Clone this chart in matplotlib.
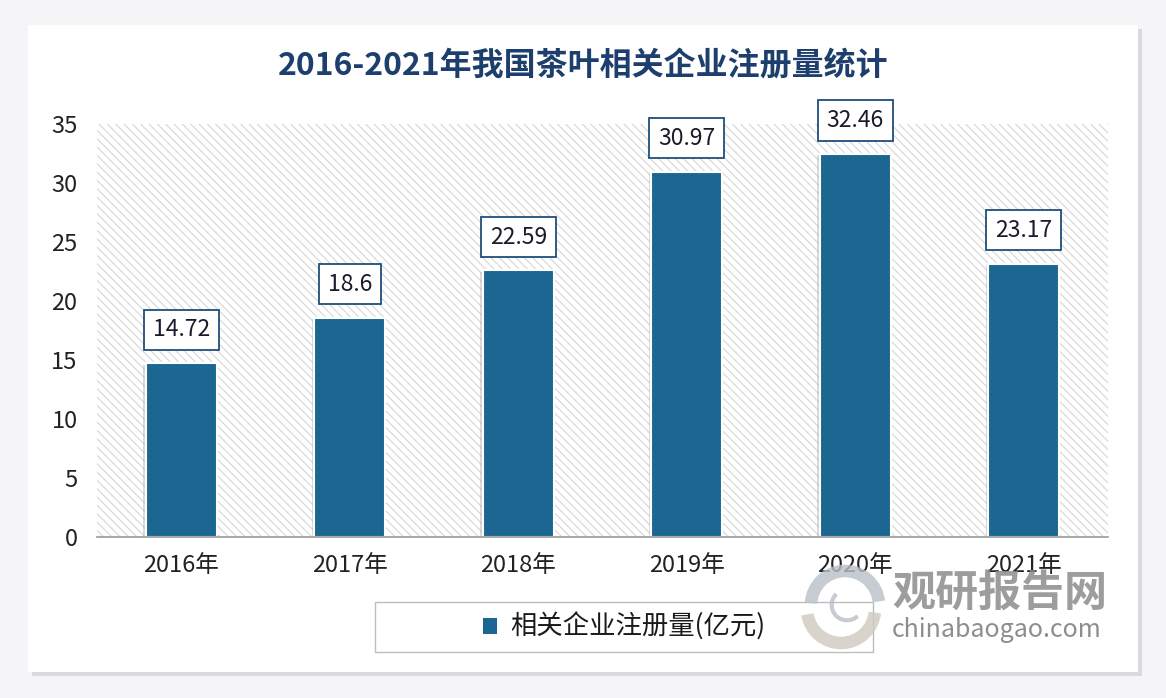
import matplotlib
matplotlib.use("Agg")
import matplotlib.pyplot as plt
from matplotlib.patches import Rectangle, FancyBboxPatch, Patch, Arc
import matplotlib.patheffects as pe

plt.rcParams['font.family'] = ['Noto Sans CJK SC', 'DejaVu Sans']
plt.rcParams['hatch.linewidth'] = 0.8

categories = ['2016年', '2017年', '2018年', '2019年', '2020年', '2021年']
values = [14.72, 18.6, 22.59, 30.97, 32.46, 23.17]
value_labels = ['14.72', '18.6', '22.59', '30.97', '32.46', '23.17']
series_name = '相关企业注册量(亿元)'
title = '2016-2021年我国茶叶相关企业注册量统计'
yticks = [0, 5, 10, 15, 20, 25, 30, 35]

BAR_COLOR = '#1b6791'

W, H = 1166, 698
fig = plt.figure(figsize=(W / 100, H / 100), dpi=100, facecolor='#f5f5f7')

def fx(px):
    return px / W

def fy(py):
    return 1 - py / H

# card with soft shadow
card = FancyBboxPatch((fx(28), fy(672)), fx(1138) - fx(28), fy(25) - fy(672),
                      boxstyle='square,pad=0', transform=fig.transFigure,
                      facecolor='white', edgecolor='none', zorder=-5,
                      path_effects=[pe.SimplePatchShadow(offset=(3, -3), shadow_rgbFace='#c8c8cc', alpha=0.6),
                                    pe.Normal()])
fig.patches.append(card)

ax = fig.add_axes([fx(97), fy(537), fx(1108) - fx(97), fy(124) - fy(537)])
ax.set_facecolor('none')
ax.add_patch(Rectangle((0, 0), 1, 1, transform=ax.transAxes, facecolor='white',
                       edgecolor='#d6d6d6', hatch='\\\\\\\\', lw=0, zorder=0))

x = list(range(len(categories)))
bars = ax.bar(x, values, width=0.42, color=BAR_COLOR, edgecolor='white', linewidth=1.5,
              zorder=3)
for b in bars:
    b.set_path_effects([pe.SimplePatchShadow(offset=(-2, -1), shadow_rgbFace='#9a9a9a', alpha=0.35),
                        pe.Normal()])

for xi, v, lab in zip(x, values, value_labels):
    ax.annotate(lab, (xi, v), xytext=(0, 24), textcoords='offset points',
                ha='center', va='center', fontsize=16.5, color='#1a1a2a', zorder=5,
                bbox=dict(boxstyle='square,pad=0.38', facecolor='white', edgecolor='#1f4e79', lw=1.3))

ax.set_xlim(-0.5, len(categories) - 0.5)
ax.set_ylim(0, 35)
ax.set_yticks(yticks)
ax.set_yticklabels([str(t) for t in yticks])
ax.set_xticks(x)
ax.set_xticklabels(categories)
ax.tick_params(axis='y', length=0, pad=14, labelsize=17, labelcolor='#222222')
ax.tick_params(axis='x', length=0, pad=12, labelsize=17, labelcolor='#222222')
for s in ['top', 'right', 'left']:
    ax.spines[s].set_visible(False)
ax.spines['bottom'].set_color('#9a9a9a')
ax.spines['bottom'].set_linewidth(1.2)
ax.spines['bottom'].set_zorder(4)

fig.text(fx(583), fy(66), title, ha='center', va='center', fontsize=23, fontweight='bold',
         color='#1d3f6d')

# legend frame + legend
fig.patches.append(Rectangle((fx(375), fy(652)), fx(873) - fx(375), fy(602) - fy(652),
                             transform=fig.transFigure, facecolor='white', edgecolor='#bdbdbd',
                             lw=1.0, zorder=1))
leg = fig.legend(handles=[Patch(facecolor=BAR_COLOR, edgecolor='none')], labels=[series_name],
                 loc='center', bbox_to_anchor=(fx(624), fy(627)), frameon=False, fontsize=19,
                 handlelength=0.55, handleheight=0.55, handletextpad=0.5)
for t in leg.get_texts():
    t.set_color('#1a1a1a')

# watermark logo (swirl) and text
cx, cy, r = 845, 605, 34
fig.patches.append(Arc((fx(cx), fy(cy)), 2 * r / W, 2 * r / H, theta1=10, theta2=175,
                       transform=fig.transFigure, color='#b9c0c7', lw=9, alpha=0.8, zorder=10))
fig.patches.append(Arc((fx(cx - 4), fy(cy + 4)), 2 * r / W, 2 * r / H, theta1=195, theta2=350,
                       transform=fig.transFigure, color='#cfc9bf', lw=9, alpha=0.8, zorder=10))
fig.patches.append(Arc((fx(cx + 2), fy(cy)), 0.9 * r / W, 0.9 * r / H, theta1=120, theta2=300,
                       transform=fig.transFigure, color='#b9c0c7', lw=3, alpha=0.8, zorder=10))
fig.text(fx(1000), fy(593), '观研报告网', ha='center', va='center', fontsize=31,
         fontweight='bold', color='#8c8c8c', alpha=0.85, zorder=10)
fig.text(fx(997), fy(630), 'chinabaogao.com', ha='center', va='center', fontsize=18,
         color='#7a7a7a', alpha=0.85, zorder=10)

fig.savefig('out.png', dpi=100, facecolor=fig.get_facecolor())
